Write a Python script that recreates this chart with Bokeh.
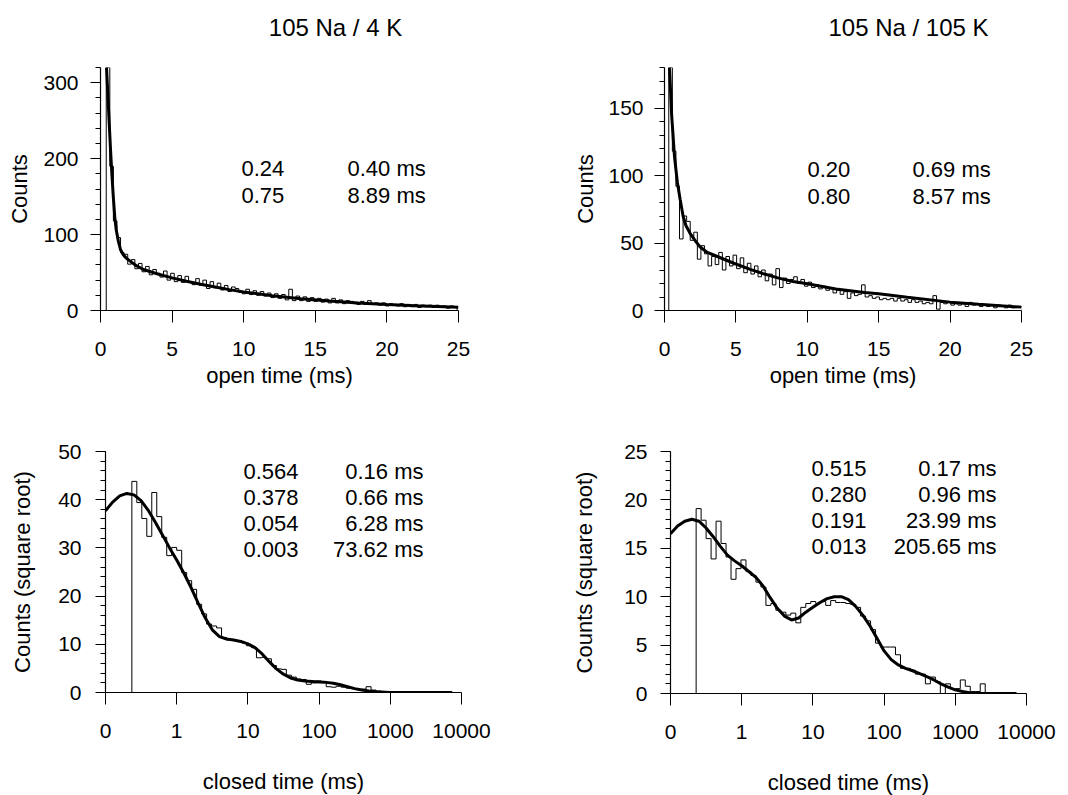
import numpy as np
from bokeh.plotting import figure
from bokeh.models import Range1d, Label, SingleIntervalTicker, FixedTicker
from bokeh.layouts import column, row
from bokeh.embed import file_html
from bokeh.resources import INLINE

FONT = "Liberation Sans"

# ---------------- data ----------------
titles = ["105 Na / 4 K", "105 Na / 105 K"]

# open-time histograms (linear time, ms): bin start, bin width, counts
open_4k_start = 0.4
open_4k_width = 0.25
open_4k_counts = [320, 190, 118, 96, 76, 74, 61, 67, 55, 62,
                  51, 58, 47, 54, 49, 44, 52, 40, 49, 38,
                  46, 37, 45, 38, 34, 42, 33, 40, 29, 38,
                  30, 36, 27, 33, 25, 31, 29, 24, 22, 28,
                  21, 26, 20, 25, 19, 23, 17, 22, 16, 21,
                  14, 28, 13, 19, 13, 18, 12, 17, 12, 16,
                  11, 15, 10, 16, 10, 14, 9, 13, 12, 9,
                  8, 12, 8, 13, 8, 10, 7, 10, 6, 9,
                  8, 6, 9, 5, 8, 5, 8, 4, 7, 5,
                  7, 4, 7, 4, 6, 3, 6, 4]
open_4k_fit_t = [0.42, 0.5, 0.6, 0.7, 0.8, 0.9, 1.0, 1.1, 1.25, 1.4, 1.6, 1.8, 2.0, 2.5,
                 3, 4, 5, 6, 7, 8, 9, 10, 12, 14, 16, 18, 20, 22, 25]
open_4k_fit_y = [320, 290, 250, 212, 178, 148, 122, 106, 91, 80, 73, 69, 66, 59,
                 54, 48, 43, 38.5, 34.5, 31, 27.5, 24.5, 19.5, 15.5, 12.5, 10, 8, 6.3, 4.4]

open_105k_start = 0.3
open_105k_width = 0.25
open_105k_counts = [180, 118, 92, 53, 70, 66, 52, 58, 38, 48,
                    42, 33, 40, 34, 43, 30, 40, 33, 41, 31,
                    39, 28, 35, 27, 33, 25, 30, 22, 27, 19,
                    31, 17, 24, 20, 23, 25, 20, 23, 18, 21,
                    17, 19, 16, 18, 15, 17, 13, 15, 12, 14,
                    9, 13, 11, 12, 19, 10, 11, 9, 10, 8,
                    9, 8, 9, 7, 9, 7, 8, 6, 8, 6,
                    7, 5, 6, 5, 11, 1, 6, 5, 6, 4,
                    5, 4, 5, 3, 6, 4, 5, 3, 4, 3,
                    4, 2, 4, 3, 2, 4, 2, 3, 3]
open_105k_fit_t = [0.35, 0.5, 0.7, 0.9, 1.1, 1.3, 1.5, 1.8, 2.2, 2.5, 3, 3.7, 4.85, 6, 7,
                   8, 9, 10, 12, 14, 15, 17, 20, 22, 25]
open_105k_fit_y = [180, 145, 114, 95, 82, 70, 63, 57, 51, 47, 43, 40, 35, 30.5, 27,
                   24, 21.5, 19.8, 16, 13.4, 12.4, 9.8, 6.2, 4.7, 2.5]

# closed-time histograms (log10 time in ms), square-root counts
closed_4k_start = -0.63
closed_4k_width = 0.07
closed_4k_counts = [43.8, 39.4, 36.1, 32.4, 41.5, 36.5, 32.2, 28.4, 30.1, 29.5,
                    24.9, 23.2, 21.4, 18.3, 16.3, 14.2, 13.8, 13.4, 11.4, 10.9,
                    10.8, 10.6, 10.3, 9.7, 9.3, 7.2, 7.3, 7.0, 5.6, 4.9,
                    4.8, 3.6, 3.2, 2.8, 2.7, 1.7, 2.0, 2.4, 2.3, 1.2,
                    1.1, 1.3, 1.1, 0.9, 0.8, 0.6, 0.7, 1.2, 0.5, 0.3]
closed_4k_fit_logt = [-1.0, -0.9, -0.8, -0.7, -0.6, -0.5, -0.4, -0.3, -0.2, -0.1, 0.0,
                      0.1, 0.2, 0.3, 0.4, 0.5, 0.6, 0.7, 0.8, 0.9, 1.0, 1.1, 1.2, 1.3,
                      1.4, 1.5, 1.6, 1.7, 1.8, 1.9, 2.0, 2.1, 2.2, 2.3, 2.4, 2.5, 2.6,
                      2.7, 2.8, 3.0, 3.2, 3.87]
closed_4k_fit_y = [37.7, 39.5, 40.8, 41.3, 41.0, 39.8, 37.8, 35.3, 32.7, 30.0, 27.5,
                   24.8, 21.8, 18.6, 15.5, 13.0, 11.6, 11.1, 10.9, 10.6, 10.1, 9.3, 8.0, 6.4,
                   4.9, 3.8, 3.0, 2.6, 2.4, 2.3, 2.2, 2.1, 1.9, 1.6, 1.2, 0.8, 0.5,
                   0.3, 0.15, 0.02, 0.0, 0.0]

closed_105k_start = -0.64
closed_105k_width = 0.07
closed_105k_counts = [19.1, 17.9, 16.0, 13.9, 17.8, 15.5, 14.1, 11.8, 12.9, 13.8,
                      12.6, 12.2, 11.5, 11.0, 9.1, 9.3, 8.6, 8.4, 8.1, 8.3,
                      7.3, 8.9, 9.3, 9.5, 9.3, 9.5, 9.1, 9.6, 9.4, 9.4,
                      9.3, 9.2, 8.9, 8.0, 7.5, 6.6, 5.2, 4.8, 4.8, 4.8,
                      4.0, 2.6, 2.6, 2.4, 2.0, 2.0, 1.0, 1.7, 1.2, 0.0,
                      1.0, 0.5, 0.5, 1.4, 0.75, 0.2, 0.2, 1.0]
closed_105k_fit_logt = [-1.0, -0.9, -0.8, -0.7, -0.6, -0.5, -0.4, -0.3, -0.2, -0.1, 0.0,
                        0.1, 0.2, 0.3, 0.4, 0.5, 0.6, 0.7, 0.8, 0.9, 1.0, 1.1, 1.2, 1.3,
                        1.4, 1.5, 1.6, 1.7, 1.8, 1.9, 2.0, 2.1, 2.2, 2.3, 2.4, 2.5, 2.6,
                        2.7, 2.8, 2.9, 3.0, 3.1, 3.2, 3.4, 3.86]
closed_105k_fit_y = [16.5, 17.3, 17.8, 18.0, 17.8, 17.1, 16.2, 15.2, 14.3, 13.7, 13.2,
                     12.6, 12.0, 11.1, 9.9, 8.8, 8.0, 7.6, 7.8, 8.4, 8.9, 9.4, 9.8, 10.0,
                     10.0, 9.7, 9.0, 8.1, 7.0, 5.7, 4.4, 3.5, 2.95, 2.6, 2.35, 2.05, 1.75,
                     1.4, 1.0, 0.65, 0.38, 0.2, 0.08, 0.01, 0.0]

# fit parameters shown on the panels (fraction, time constant)
open_4k_frac = ["0.24", "0.75"]
open_4k_tau = ["0.40 ms", "8.89 ms"]
open_105k_frac = ["0.20", "0.80"]
open_105k_tau = ["0.69 ms", "8.57 ms"]
closed_4k_frac = ["0.564", "0.378", "0.054", "0.003"]
closed_4k_tau = ["0.16 ms", "0.66 ms", "6.28 ms", "73.62 ms"]
closed_105k_frac = ["0.515", "0.280", "0.191", "0.013"]
closed_105k_tau = ["0.17 ms", "0.96 ms", "23.99 ms", "205.65 ms"]

log_ticks = [-1, 0, 1, 2, 3, 4]
log_tick_labels = ["0", "1", "10", "100", "1000", "10000"]

# ---------------- helpers ----------------
def step_path(start, width, counts, tail_end=None):
    edges = start + width * np.arange(len(counts) + 1)
    xs, ys = [edges[0]], [0.0]
    for i, c in enumerate(counts):
        xs += [edges[i], edges[i + 1]]
        ys += [c, c]
    xs.append(edges[-1]); ys.append(0.0)
    if tail_end is not None:
        xs.append(tail_end); ys.append(0.0)
    return xs, ys


def make_fig(geom, borders, xr, yr):
    L, R, T, B = geom
    bl, br, bt, bb = borders
    p = figure(frame_width=R - L, frame_height=B - T,
               x_range=Range1d(*xr), y_range=Range1d(*yr),
               min_border_left=bl, min_border_right=br,
               min_border_top=bt, min_border_bottom=bb,
               output_backend="svg", toolbar_location=None)
    p.outline_line_color = None
    p.grid.visible = False
    p.background_fill_color = "white"
    p.border_fill_color = "white"
    for ax in (p.xaxis[0], p.yaxis[0]):
        ax.axis_line_color = "black"
        ax.axis_line_width = 1.2
        ax.major_tick_line_color = "black"
        ax.minor_tick_line_color = "black"
        ax.major_tick_in = 0
        ax.minor_tick_in = 0
        ax.major_label_text_font = FONT
        ax.major_label_text_font_size = "21px"
        ax.major_label_text_color = "black"
        ax.axis_label_text_font = FONT
        ax.axis_label_text_font_size = "22px"
        ax.axis_label_text_font_style = "normal"
        ax.axis_label_text_color = "black"
    p.xaxis[0].major_tick_out = 12
    p.xaxis[0].major_label_standoff = 19
    p.yaxis[0].major_tick_out = 10
    p.yaxis[0].minor_tick_out = 5
    return p


def to_data(geom, xr, yr, px, py):
    L, R, T, B = geom
    x = xr[0] + (px - L) / (R - L) * (xr[1] - xr[0])
    y = yr[0] + (B - py) / (B - T) * (yr[1] - yr[0])
    return x, y


def add_text(p, geom, xr, yr, px, py, text, size="22px", align="left"):
    x, y = to_data(geom, xr, yr, px, py)
    p.add_layout(Label(x=x, y=y, text=text, text_font=FONT, text_font_size=size,
                       text_color="black", text_align=align, text_baseline="middle"))


TOTAL_W = 1064
HDR_H = 62

# ---------------- header with the two titles ----------------
hdr = figure(width=TOTAL_W, height=HDR_H, x_range=Range1d(0, TOTAL_W), y_range=Range1d(0, HDR_H),
             min_border_left=0, min_border_right=0, min_border_top=0, min_border_bottom=0,
             x_axis_type=None, y_axis_type=None, output_backend="svg", toolbar_location=None)
hdr.outline_line_color = None
hdr.grid.visible = False
hdr.background_fill_color = "white"
hdr.border_fill_color = "white"
for tx, txt in zip([335, 908], titles):
    hdr.add_layout(Label(x=tx, y=HDR_H - 27, text=txt, text_font=FONT, text_font_size="24px",
                         text_color="black", text_align="center", text_baseline="middle"))

# ---------------- panel 1: open time 4 K ----------------
g1 = (100, 458, 67, 310); xr1 = (0, 25); yr1 = (0, 320)
p1 = make_fig(g1, (100, 76, 67 - HDR_H, 88), xr1, yr1)
p1.xaxis[0].ticker = SingleIntervalTicker(interval=5, num_minor_ticks=0)
p1.yaxis[0].ticker = SingleIntervalTicker(interval=100, num_minor_ticks=5)
p1.xaxis[0].axis_label = "open time (ms)"
p1.yaxis[0].axis_label = "Counts"
p1.xaxis[0].axis_label_standoff = 4
p1.yaxis[0].major_label_standoff = 12
p1.yaxis[0].axis_label_standoff = 8
hx, hy = step_path(open_4k_start, open_4k_width, open_4k_counts)
p1.line(hx, hy, line_color="black", line_width=1)
p1.line(open_4k_fit_t, open_4k_fit_y, line_color="black", line_width=3)
for i in range(len(open_4k_frac)):
    add_text(p1, g1, xr1, yr1, 241, 168 + 27 * i, open_4k_frac[i])
    add_text(p1, g1, xr1, yr1, 347, 168 + 27 * i, open_4k_tau[i])

# ---------------- panel 2: open time 105 K ----------------
g2 = (664, 1021, 67, 310); xr2 = (0, 25); yr2 = (0, 180)
p2 = make_fig(g2, (664 - 534, TOTAL_W - 1021, 67 - HDR_H, 88), xr2, yr2)
p2.xaxis[0].ticker = SingleIntervalTicker(interval=5, num_minor_ticks=0)
p2.yaxis[0].ticker = SingleIntervalTicker(interval=50, num_minor_ticks=5)
p2.xaxis[0].axis_label = "open time (ms)"
p2.yaxis[0].axis_label = "Counts"
p2.xaxis[0].axis_label_standoff = 4
p2.yaxis[0].major_label_standoff = 11
p2.yaxis[0].axis_label_standoff = 7
hx, hy = step_path(open_105k_start, open_105k_width, open_105k_counts)
p2.line(hx, hy, line_color="black", line_width=1)
p2.line(open_105k_fit_t, open_105k_fit_y, line_color="black", line_width=3)
for i in range(len(open_105k_frac)):
    add_text(p2, g2, xr2, yr2, 807, 169 + 27 * i, open_105k_frac[i])
    add_text(p2, g2, xr2, yr2, 912, 169 + 27 * i, open_105k_tau[i])

ROW2_TOP = 310 + 88   # where the second row starts
ROW2_H = 792 - ROW2_TOP

# ---------------- panel 3: closed time 4 K ----------------
g3 = (105, 461, 449, 690); xr3 = (-1, 4); yr3 = (0, 50)
p3 = make_fig(g3, (105, 534 - 461, 449 - ROW2_TOP, ROW2_H - (690 - ROW2_TOP)), xr3, yr3)
p3.xaxis[0].ticker = FixedTicker(ticks=log_ticks, minor_ticks=[])
p3.xaxis[0].major_label_overrides = {t: s for t, s in zip(log_ticks, log_tick_labels)}
p3.yaxis[0].ticker = SingleIntervalTicker(interval=10, num_minor_ticks=5)
p3.xaxis[0].axis_label = "closed time (ms)"
p3.yaxis[0].axis_label = "Counts (square root)"
p3.xaxis[0].axis_label_standoff = 28
p3.yaxis[0].major_label_standoff = 14
p3.yaxis[0].axis_label_standoff = 20
hx, hy = step_path(closed_4k_start, closed_4k_width, closed_4k_counts, tail_end=3.87)
p3.line(hx, hy, line_color="black", line_width=1)
p3.line(closed_4k_fit_logt, closed_4k_fit_y, line_color="black", line_width=3)
for i in range(len(closed_4k_frac)):
    add_text(p3, g3, xr3, yr3, 298, 469 + 26 * i, closed_4k_frac[i], align="right")
    add_text(p3, g3, xr3, yr3, 423, 469 + 26 * i, closed_4k_tau[i], align="right")

# ---------------- panel 4: closed time 105 K ----------------
g4 = (670, 1026, 451, 693); xr4 = (-1, 4); yr4 = (0, 25)
p4 = make_fig(g4, (670 - 534, TOTAL_W - 1026, 451 - ROW2_TOP, ROW2_H - (693 - ROW2_TOP)), xr4, yr4)
p4.xaxis[0].ticker = FixedTicker(ticks=log_ticks, minor_ticks=[])
p4.xaxis[0].major_label_overrides = {t: s for t, s in zip(log_ticks, log_tick_labels)}
p4.yaxis[0].ticker = SingleIntervalTicker(interval=5, num_minor_ticks=5)
p4.xaxis[0].axis_label = "closed time (ms)"
p4.yaxis[0].axis_label = "Counts (square root)"
p4.xaxis[0].axis_label_standoff = 28
p4.yaxis[0].major_label_standoff = 13
p4.yaxis[0].axis_label_standoff = 24
hx, hy = step_path(closed_105k_start, closed_105k_width, closed_105k_counts, tail_end=3.86)
p4.line(hx, hy, line_color="black", line_width=1)
p4.line(closed_105k_fit_logt, closed_105k_fit_y, line_color="black", line_width=3)
for i in range(len(closed_105k_frac)):
    add_text(p4, g4, xr4, yr4, 866, 468 + 26 * i, closed_105k_frac[i], align="right")
    add_text(p4, g4, xr4, yr4, 996, 468 + 26 * i, closed_105k_tau[i], align="right")

layout = column(hdr, row(p1, p2), row(p3, p4))
open("out.html", "w").write(file_html(layout, INLINE))
